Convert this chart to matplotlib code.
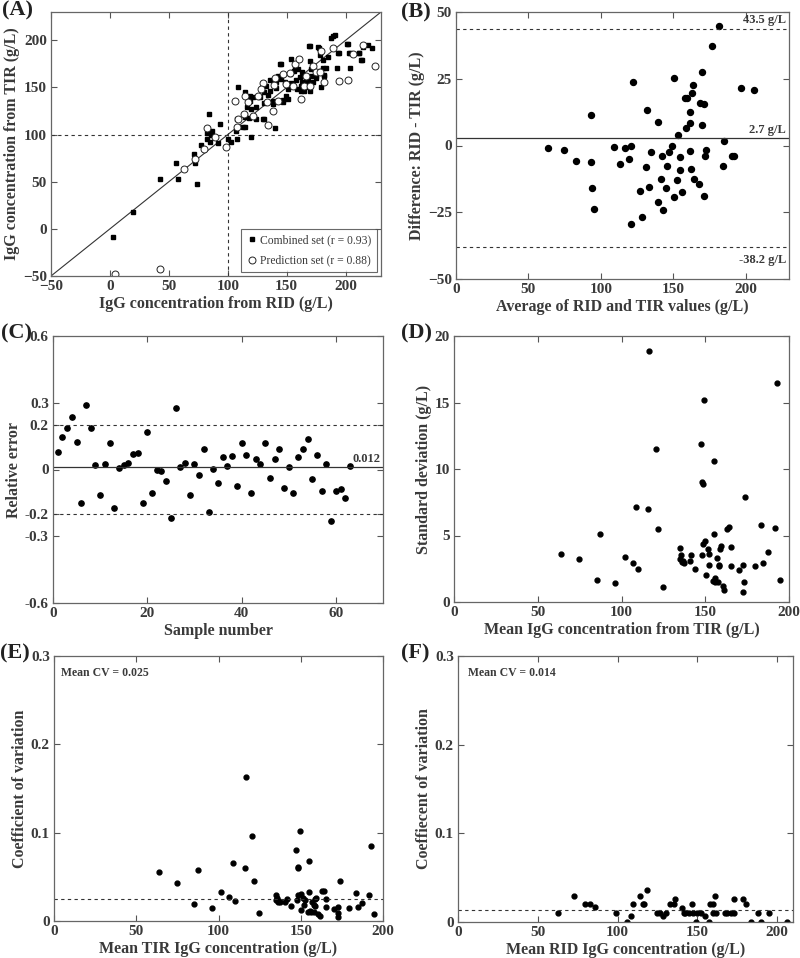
import numpy as np
import matplotlib
matplotlib.use("Agg")
import matplotlib.pyplot as plt

# ---- data ----
# (A) combined set (filled squares) : RID vs TIR
comb_rid = [2.8, 19.5, 42.7, 56, 58, 74, 71.5, 72, 77, 84, 82, 85.6, 82.5, 85, 87, 93, 92, 100, 103,
            107, 108, 109, 108, 113, 120, 115, 115, 116, 118, 119, 124, 124, 131, 131, 134, 136, 138,
            140, 141, 143, 145, 147, 151, 154, 157, 158, 162, 163, 165, 168, 170, 169, 171, 175, 177,
            178, 181, 182, 185, 188, 189, 193, 193.8, 201, 204, 203, 211.6, 213, 215, 222.6,
            190.7, 169.5, 176.5, 202, 211, 219, 214, 194, 204, 144, 154,
            145.5, 148.3, 152.5, 155.9, 159.6, 161, 163.3, 165.3, 167.5, 169.5, 172.3, 175.2, 178,
            181.4, 183.6, 179.4, 162.4, 149.7, 141.2, 135.6, 132.8, 130.5, 127.7, 121.5, 118.6,
            114.4, 120.1, 130, 138.4, 142.6, 146.9, 151.1, 158.7, 166.7, 170.9, 180.8]
comb_tir = [-8.5, 17.6, 52.5, 70, 53, 48, 79, 70, 89, 122, 102, 99.6, 95, 92, 103.5, 111, 91, 95, 92,
            103.5, 95, 150, 116, 108, 97, 108, 119, 129, 118, 141, 129, 117, 117, 134, 142, 146, 136,
            107, 149, 162, 175, 137, 148, 155, 171, 158, 152, 166, 146, 157, 178, 194, 170, 160, 192,
            184, 171, 163, 182, 202, 205, 171, 186, 196, 171, 186, 187, 179, 193, 191.5,
            205.7, 194, 193, 196, 187, 195, 179, 187, 186, 175, 180,
            158.9, 155.3, 164.2, 167.7, 169.4, 160.6, 155.3, 150, 155.3, 146.5, 155.3, 162.4, 167.7,
            162.4, 171.1, 150, 146.5, 141.2, 155.3, 157.8, 151.8, 144.7, 139.4, 139.4, 135.2,
            144.7, 127.2, 116.6, 132.5, 136, 134.2, 137.8, 148.3, 158.9, 162.4, 179]
# (A) prediction set (open circles)
pred_rid = [4.2, 42.4, 63, 72, 79.7, 82.5, 89.5, 98.6, 106, 108, 109, 114, 115, 117, 121, 126, 130,
            133, 134, 128, 138, 139, 140, 143, 147, 149, 152.5, 155, 157, 160, 162, 165, 166, 170,
            172, 175, 178, 179, 182, 189, 194, 202, 206.5, 215, 225]
pred_tir = [-48, -43, 64, 74, 85, 106.7, 97, 87, 136, 108, 116, 122, 141, 135, 120, 141, 155,
            135, 110, 148, 125, 153, 160, 136, 164, 154, 165, 151, 175, 180, 138, 152, 162, 151,
            173, 166, 166, 189, 156, 192, 157, 158, 185, 195, 173]

# (B) Bland-Altman
ba_mean = [63.7, 74.3, 82.9, 93.3, 93, 94.2, 95, 109, 113, 116.4, 119.7, 120.8, 122.5, 121, 126.9,
           128.5, 131.7, 131, 133.3, 134.7, 139.4, 139.4, 141.9, 142.6, 142.8, 144.7, 145.6, 147.2,
           149.5, 150.7, 150.5, 152.3, 153, 154.6, 154.9, 156, 158, 159.7, 158.6, 161.3, 161.6,
           161.8, 162.3, 163, 164, 164.4, 167.6, 168.8, 169.9, 169.9, 171.3, 171, 172.2, 172.7,
           176.9, 181.7, 184.5, 185.2, 190.3, 191.9, 196.8, 206]
ba_diff = [-1, -1.6, -5.75, 11.6, -6.25, -15.9, -23.9, -0.5, -6.9, -1.1, -5.1, 0, 23.6, -29.3, -17,
           -26.9, 13.4, -7.9, -15.6, -2.4, 8.9, -21.25, -12.5, -4, -24, -16.1, -7.5, -2.25,
           -0.25, 25.1, -19.25, -13, 4.1, -9.1, -4.4, -17.25, 17.75, 17.75, 6.4, -1.9, 8.4,
           12.5, -8.9, 19.5, 22.5, -12.5, -14.5, 15.9, 27.4, 7.6, 15.5, -18.9, -3.75, -1.75,
           37.1, 44.9, -7.5, 1.5, -4.1, -4, 21.6, 20.6]
ba_bias = 2.7
ba_upper = 43.5
ba_lower = -38.2

# (C) relative error per sample
rel_err = [0.080, 0.144, 0.185, 0.235, 0.125, -0.152, 0.289, 0.185, 0.020, -0.116, 0.024, 0.119,
           -0.174, 0.006, 0.020, 0.030, 0.071, 0.072, -0.149, 0.167, -0.105, 0.0, -0.008, -0.050,
           -0.218, 0.275, 0.011, 0.030, -0.113, 0.024, -0.026, 0.090, -0.189, 0.003, -0.060, 0.056,
           0.014, 0.060, -0.072, 0.120, 0.063, -0.105, 0.045, 0.023, 0.119, -0.039, 0.045, 0.093,
           -0.084, 0.011, -0.105, 0.056, 0.093, 0.138, -0.044, 0.063, -0.095, 0.023, -0.230,
           -0.095, -0.089, -0.128, 0.017]
sample_no = list(range(1, len(rel_err) + 1))
rel_mean = 0.012

# (D) / (E) repeatability of TIR
tir_mean = [64.1, 74.7, 85.3, 87.3, 96, 101.8, 106.6, 108.8, 110, 115.9, 116.5, 120.3, 121.5, 124.5,
            134.9, 134.9, 135.3, 136, 137, 137.5, 140.6, 141.4, 143.8, 147.4, 147.8, 148.2, 148.4,
            148.4, 150, 150.2, 149.4, 151.6, 152, 152.4, 154.4, 155, 155, 155.6, 156, 156.8, 157.8,
            158.2, 158.4, 158.6, 159.4, 160.6, 161.4, 163, 164.1, 165.3, 165.5, 170.1, 172.7,
            172.9, 172.7, 173.9, 179.5, 183.3, 184.7, 187.5, 191.6, 193, 194.4]
tir_sd = [3.6, 3.2, 1.65, 5.1, 1.45, 3.38, 2.93, 7.13, 2.5, 7.0, 18.9, 11.5, 5.5, 1.15,
          4.05, 3.2, 3.5, 3.0, 3.1, 2.9, 3.1, 3.5, 2.5, 11.85, 3.5, 9.0, 8.85,
          4.38, 4.6, 2.0, 15.2, 3.98, 2.75, 3.6, 1.55, 5.1, 10.6, 1.78, 1.5, 3.3, 1.5,
          2.8, 2.68, 3.95, 4.2, 1.22, 0.93, 5.5, 5.63, 2.7, 4.13, 2.4, 2.8,
          1.5, 0.75, 7.9, 2.7, 5.78, 2.93, 3.73, 5.58, 16.5, 1.63]
tir_cv = [0.056, 0.043, 0.019, 0.058, 0.015, 0.033, 0.027, 0.066, 0.023, 0.060, 0.163, 0.096, 0.045,
          0.009, 0.030, 0.024, 0.026, 0.022, 0.023, 0.021, 0.022, 0.025, 0.017, 0.080, 0.024, 0.061,
          0.060, 0.030, 0.031, 0.013, 0.102, 0.026, 0.018, 0.024, 0.010, 0.033, 0.068, 0.011, 0.010,
          0.021, 0.010, 0.018, 0.017, 0.025, 0.026, 0.008, 0.006, 0.034, 0.034, 0.016, 0.025, 0.014,
          0.016, 0.009, 0.004, 0.045, 0.015, 0.032, 0.016, 0.020, 0.029, 0.085, 0.008]
tir_mean_cv = 0.025

# (F) repeatability of RID
rid_mean = [62.8, 72.9, 79.6, 82.8, 85.7, 98.9, 106, 108.2, 109.5, 114.3, 115.8, 116.8, 118.3, 125,
            126.5, 128.2, 130.3, 133.2, 135.1, 135.9, 140.3, 141.4, 142.2, 145, 146.8, 147.5, 149.4,
            149.8, 152.1, 154.6, 157.1, 157.8, 160.1, 159.9, 161.1, 162, 167.6, 168.7, 171.4, 172.9,
            173.3, 178.6, 180.3, 183.4, 187.8, 189.7, 195, 206]
rid_cv = [0.01, 0.029, 0.020, 0.020, 0.017, 0.01, 0.0, 0.0065, 0.020, 0.029, 0.020, 0.020, 0.036,
          0.01, 0.01, 0.0065, 0.01, 0.020, 0.020, 0.026, 0.016, 0.01, 0.01, 0.01, 0.020, 0.01, 0.0,
          0.01, 0.01, 0.0065, 0.0, 0.020, 0.020, 0.01, 0.029, 0.01, 0.01, 0.01, 0.01, 0.01,
          0.026, 0.026, 0.020, 0.0, 0.01, 0.0, 0.01, 0.0]
rid_mean_cv = 0.014

# ---- styling ----
plt.rcParams['font.family'] = ['Liberation Serif', 'DejaVu Serif']
plt.rcParams['font.weight'] = 'bold'
plt.rcParams['axes.labelweight'] = 'bold'
TXT = '#3a3a3a'
plt.rcParams['text.color'] = TXT
plt.rcParams['axes.labelcolor'] = TXT
plt.rcParams['xtick.color'] = '#555555'
plt.rcParams['ytick.color'] = '#555555'
plt.rcParams['xtick.labelcolor'] = TXT
plt.rcParams['ytick.labelcolor'] = TXT
plt.rcParams['axes.edgecolor'] = '#666666'

W, H = 800, 958
fig = plt.figure(figsize=(W / 100, H / 100), dpi=100)


def make_ax(l, r, t, b):
    ax = fig.add_axes([l / W, 1 - b / H, (r - l) / W, (b - t) / H])
    ax.tick_params(direction='in', top=True, right=True, labelsize=11, length=4, width=0.8, pad=3)
    for s in ax.spines.values():
        s.set_linewidth(0.9)
    return ax


def panel_label(txt, x, y):
    # x, y in figure pixels from the top-left corner
    fig.text(x / W, 1 - y / H, txt, fontsize=16, fontweight='bold', color='#222222',
             ha='left', va='center')


lab = dict(fontsize=11.5, fontweight='bold')
dash = (0, (3, 3))

# (A)
ax = make_ax(51, 381, 12, 276)
ax.plot([-50, 230], [-50, 230], color='#333333', lw=0.8)
ax.axvline(100, color='#333333', ls=dash, lw=0.8)
ax.axhline(100, color='#333333', ls=dash, lw=0.8)
ax.plot(comb_rid, comb_tir, 's', color='black', ms=3.2, label='Combined set (r = 0.93)')
ax.plot(pred_rid, pred_tir, 'o', mfc='white', mec='#222222', mew=0.7, ms=5,
        label='Prediction set (r = 0.88)')
ax.set_xlim(-50, 230)
ax.set_ylim(-50, 230)
ax.set_xticks([-50, 0, 50, 100, 150, 200])
ax.set_yticks([-50, 0, 50, 100, 150, 200])
ax.set_xlabel('IgG concentration from RID (g/L)', labelpad=2, **lab)
ax.set_ylabel('IgG concentration from TIR (g/L)', labelpad=2, **lab)
leg = ax.legend(loc='lower right', prop={'weight': 'normal', 'size': 8.4},
                fancybox=False, edgecolor='#444444', handletextpad=0.2, borderpad=0.45,
                handlelength=1.0, labelspacing=0.75, borderaxespad=0.35)
leg.get_frame().set_linewidth(0.8)
panel_label('(A)', 2, 10)

# (B)
ax = make_ax(456, 789, 12, 279)
ax.plot(ba_mean, ba_diff, 'o', color='black', ms=4.3)
ax.axhline(ba_bias, color='#333333', lw=0.9)
ax.axhline(ba_upper, color='#333333', ls=dash, lw=0.8)
ax.axhline(ba_lower, color='#333333', ls=dash, lw=0.8)
ax.text(228, ba_upper + 1.2, '43.5 g/L', ha='right', va='bottom', fontsize=9)
ax.text(228, ba_bias + 1.0, '2.7 g/L', ha='right', va='bottom', fontsize=9)
ax.text(228, ba_lower - 2.5, '-38.2 g/L', ha='right', va='top', fontsize=9)
ax.set_xlim(0, 230)
ax.set_ylim(-50, 50)
ax.set_xticks([0, 50, 100, 150, 200])
ax.set_yticks([-50, -25, 0, 25, 50])
ax.set_xlabel('Average of RID and TIR values (g/L)', labelpad=2, **lab)
ax.set_ylabel('Difference: RID - TIR (g/L)', labelpad=2, **lab)
panel_label('(B)', 401, 12)

# (C)
ax = make_ax(53, 383, 336, 603)
ax.plot(sample_no, rel_err, 'o', color='black', ms=3.8)
ax.axhline(rel_mean, color='#333333', lw=0.9)
ax.axhline(0.2, color='#333333', ls=dash, lw=0.8)
ax.axhline(-0.2, color='#333333', ls=dash, lw=0.8)
ax.text(69.5, rel_mean + 0.01, '0.012', ha='right', va='bottom', fontsize=9)
ax.set_xlim(0, 70)
ax.set_ylim(-0.6, 0.6)
ax.set_xticks([0, 20, 40, 60])
ax.set_yticks([-0.6, -0.3, -0.2, 0, 0.2, 0.3, 0.6])
ax.set_yticklabels(['-0.6', '-0.3', '-0.2', '0', '0.2', '0.3', '0.6'])
ax.set_xlabel('Sample number', labelpad=2, **lab)
ax.set_ylabel('Relative error', labelpad=2, **lab)
panel_label('(C)', 1, 333)

# (D)
ax = make_ax(454, 789, 336, 602)
ax.plot(tir_mean, tir_sd, 'o', color='black', ms=3.5)
ax.set_xlim(0, 200)
ax.set_ylim(0, 20)
ax.set_xticks([0, 50, 100, 150, 200])
ax.set_yticks([0, 5, 10, 15, 20])
ax.set_xlabel('Mean IgG concentration from TIR (g/L)', labelpad=2, **lab)
ax.set_ylabel('Standard deviation (g/L)', labelpad=2, **lab)
panel_label('(D)', 401, 333)

# (E)
ax = make_ax(54, 383, 656, 921)
ax.plot(tir_mean, tir_cv, 'o', color='black', ms=3.5)
ax.axhline(tir_mean_cv, color='#333333', ls=dash, lw=0.8)
ax.text(0.02, 0.96, 'Mean CV = 0.025', transform=ax.transAxes, ha='left', va='top', fontsize=8.5)
ax.set_xlim(0, 200)
ax.set_ylim(0, 0.3)
ax.set_xticks([0, 50, 100, 150, 200])
ax.set_yticks([0, 0.1, 0.2, 0.3])
ax.set_yticklabels(['0', '0.1', '0.2', '0.3'])
ax.set_xlabel('Mean TIR IgG concentration (g/L)', labelpad=2, **lab)
ax.set_ylabel('Coefficient of variation', labelpad=2, **lab)
panel_label('(E)', 0, 653)

# (F)
ax = make_ax(458, 793, 656, 922)
ax.plot(rid_mean, rid_cv, 'o', color='black', ms=3.5)
ax.axhline(rid_mean_cv, color='#333333', ls=dash, lw=0.8)
ax.text(0.03, 0.96, 'Mean CV = 0.014', transform=ax.transAxes, ha='left', va='top', fontsize=8.5)
ax.set_xlim(0, 210)
ax.set_ylim(0, 0.3)
ax.set_xticks([0, 50, 100, 150, 200])
ax.set_yticks([0, 0.1, 0.2, 0.3])
ax.set_yticklabels(['0', '0.1', '0.2', '0.3'])
ax.set_xlabel('Mean RID IgG concentration (g/L)', labelpad=2, **lab)
ax.set_ylabel('Coeffiecent of variation', labelpad=2, **lab)
panel_label('(F)', 401, 653)

fig.savefig('out.png', dpi=100)
